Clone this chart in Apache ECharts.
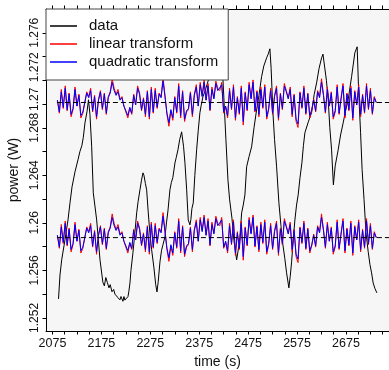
<!DOCTYPE html>
<html><head><meta charset="utf-8">
<script src="https://cdn.jsdelivr.net/npm/echarts@6/dist/echarts.min.js"></script>
<style>html,body{margin:0;padding:0;background:#fff}#c{width:389px;height:370px}</style>
</head><body><div id="c"></div><script>
// ---- data ----
const dataTime = [2087.3,2090.3,2093.8,2100.5,2106.7,2110.8,2114.9,2121.0,2127.1,2131.0,2135.0,2138.0,2141.4,2145.5,2148.6,2151.6,2155.1,2158.4,2165.3,2172.1,2178.0,2181.0,2184.0,2187.0,2190.5,2193.0,2196.6,2200.0,2202.7,2206.0,2208.9,2212.9,2215.0,2217.0,2219.0,2221.1,2223.0,2225.2,2227.0,2229.3,2231.0,2233.4,2235.4,2239.5,2243.0,2247.1,2250.0,2253.8,2257.0,2260.0,2262.0,2265.0,2267.5,2270.8,2274.0,2277.7,2282.4,2286.0,2288.6,2291.0,2294.7,2298.0,2300.8,2304.9,2308.0,2311.0,2315.1,2318.0,2321.0,2325.4,2328.0,2331.5,2335.0,2339.0,2341.0,2343.0,2345.8,2349.3,2352.5,2356.0,2358.0,2360.0,2362.8,2366.0,2369.7,2373.0,2376.4,2379.0,2382.6,2386.0,2390.8,2396.9,2401.0,2405.1,2409.0,2413.3,2416.0,2419.4,2423.5,2429.6,2433.7,2437.0,2441.9,2446.0,2451.5,2455.0,2458.2,2461.7,2465.0,2468.4,2471.9,2477.0,2482.1,2487.0,2492.3,2497.0,2502.5,2507.0,2512.8,2516.0,2519.5,2522.0,2525.7,2529.0,2533.2,2537.9,2542.0,2546.1,2550.0,2553.6,2558.3,2561.0,2563.9,2567.0,2570.6,2574.0,2577.3,2581.0,2584.9,2588.0,2591.0,2598.0,2604.7,2610.0,2615.0,2620.0,2625.2,2628.0,2631.9,2635.0,2638.7,2642.0,2645.6,2649.3,2653.0,2659.1,2664.0,2669.3,2674.0,2679.5,2686.5,2693.2,2697.9,2701.0,2704.9,2708.0,2712.0,2716.0,2720.4,2724.0,2727.4,2730.6,2734.0,2738.2];
const dataPower = [1.25360,1.25562,1.25689,1.25857,1.26025,1.26169,1.26303,1.26430,1.26531,1.26600,1.26650,1.26720,1.26842,1.26935,1.27036,1.26910,1.26640,1.26253,1.26025,1.25689,1.25500,1.25470,1.25540,1.25500,1.25453,1.25480,1.25420,1.25440,1.25400,1.25390,1.25370,1.25352,1.25380,1.25360,1.25340,1.25380,1.25350,1.25335,1.25365,1.25380,1.25420,1.25495,1.25600,1.25750,1.25900,1.26084,1.26180,1.26278,1.26360,1.26421,1.26400,1.26330,1.26278,1.26084,1.25920,1.25773,1.25621,1.25480,1.25419,1.25500,1.25672,1.25770,1.25815,1.25882,1.26000,1.26100,1.26278,1.26340,1.26380,1.26505,1.26550,1.26615,1.26700,1.26766,1.26750,1.26640,1.26505,1.26278,1.26025,1.25983,1.26030,1.26120,1.26169,1.26400,1.26615,1.26780,1.26927,1.26990,1.27061,1.27100,1.27162,1.27246,1.27300,1.27373,1.27410,1.27450,1.27400,1.27288,1.27206,1.26699,1.26362,1.26200,1.26040,1.25850,1.25689,1.25780,1.25882,1.26084,1.26150,1.26236,1.26472,1.26560,1.26640,1.26800,1.26952,1.27070,1.27230,1.27320,1.27389,1.27420,1.27465,1.27300,1.26927,1.26700,1.26472,1.26169,1.25980,1.25815,1.25700,1.25579,1.25453,1.25550,1.25672,1.25850,1.26025,1.26150,1.26236,1.26380,1.26505,1.26650,1.26758,1.26850,1.26927,1.27080,1.27179,1.27300,1.27389,1.27420,1.27432,1.27200,1.27036,1.26800,1.26615,1.26320,1.26480,1.26615,1.26740,1.26842,1.26940,1.27036,1.27230,1.27432,1.27482,1.27100,1.26758,1.26450,1.26194,1.25916,1.25760,1.25650,1.25579,1.25495,1.25450,1.25411];

// residuals sampled every 4 s from t = 2085 s, in units of 1e-4 W
const residualStart = 2085;
const residualStep = 4;
const linearResidual = [2,-9,11,-5,14,-7,8,-12,-6,13,-3,7,-13,-9,-10,9,5,12,-8,6,-14,2,10,-6,8,-10,5,9,20,12,7,11,3,5,-3,-8,-13,-5,-10,7,-2,14,8,-7,4,-12,10,-14,13,-9,12,-5,8,5,21,6,-10,-20,-7,-15,5,-9,16,-13,10,-16,-8,-6,9,-12,7,15,-3,17,6,19,2,16,-7,13,4,18,12,10,17,-9,-4,-13,12,-6,15,-15,5,-10,14,-19,9,-7,17,4,19,-8,10,-12,13,-5,15,-14,-6,12,-10,6,14,-15,8,-6,16,10,4,13,-12,7,-16,-21,9,-5,14,-10,8,-13,-7,3,-8,10,5,20,7,-9,13,-3,9,-14,-8,15,-10,4,16,-13,8,-7,14,-15,10,-2,15,-12,7,-9,16,-6,12,-10,5,0];
const quadraticResidual = [2,-8,9,-4,12,-6,7,-10,-5,11,-3,6,-11,-8,-9,8,4,10,-7,5,-12,2,9,-5,7,-9,4,8,17,10,6,9,2,4,-3,-7,-11,-4,-9,6,-2,12,7,-6,3,-10,9,-12,11,-8,10,-4,7,4,18,5,-9,-17,-6,-13,4,-8,14,-11,9,-14,-7,-5,8,-10,6,13,-3,15,5,17,2,14,-6,11,3,16,10,9,15,-8,-3,-11,10,-5,13,-13,4,-9,12,-16,8,-6,15,3,17,-7,9,-10,11,-4,13,-12,-5,10,-9,5,12,-13,7,-5,14,9,3,11,-10,6,-14,-18,8,-4,12,-9,7,-11,-6,2,-7,9,4,17,6,-8,11,-3,8,-12,-7,13,-9,3,14,-11,7,-6,12,-13,9,-2,13,-10,6,-8,14,-5,10,-9,4,0];
const levelUpper = 1.27013;
const levelLower = 1.25876;
const refLineStart = 2084;
const refLineEnd = 2800;

// ---- ticks ----
const xTickLabels = [2075,2175,2275,2375,2475,2575,2675];
const xTicks = [2075,2100,2125,2150,2175,2200,2225,2250,2275,2300,2325,2350,2375,2400,2425,2450,2475,2500,2525,2550,2575,2600,2625,2650,2675,2700,2725,2750];
const yLabelValues = [1.252,1.256,1.26,1.264,1.268,1.2704,1.2731,1.276];
const yLabelTexts = ['1.252','1.256','1.26','1.264','1.268','1.27','1.272','1.276'];
const yTicks = [1.252,1.254,1.256,1.258,1.26,1.262,1.264,1.266,1.268,1.27,1.272,1.274,1.276];

const font = '"Liberation Sans", "DejaVu Sans", sans-serif';
const X_MIN = 2061.7, X_MAX = 2763, Y_MIN = 1.2509, Y_MAX = 1.2780;

function residualSeries(name, color, level, arr) {
  return {
    name, type: 'line', showSymbol: false, symbol: 'none', animation: false,
    lineStyle: { color, width: 1 }, itemStyle: { color },
    data: arr.map((r, i) => [residualStart + residualStep * i, level + r * 1e-4])
  };
}
function refSeries(level) {
  return {
    name: 'ref', type: 'line', showSymbol: false, symbol: 'none', animation: false, silent: true,
    lineStyle: { color: '#000', width: 1, type: [5, 3] }, z: 5,
    data: [[refLineStart, level], [refLineEnd, level]]
  };
}

const chart = echarts.init(document.getElementById('c'), null, { renderer: 'canvas' });
chart.setOption({
  animation: false,
  backgroundColor: '#fff',
  grid: { left: 46, right: 0, top: 9, bottom: 39, show: true, backgroundColor: '#f6f6f6', borderWidth: 0, outerBoundsMode: 'none' },
  legend: {
    data: ['data', 'linear transform', 'quadratic transform'],
    orient: 'vertical', left: 46, top: 9,
    icon: 'rect', itemWidth: 27, itemHeight: 1.5, itemGap: 2,
    padding: [9, 10, 10, 4],
    backgroundColor: '#fff', borderColor: '#444', borderWidth: 1, borderRadius: 0,
    selectedMode: false, z: 10,
    textStyle: { fontFamily: font, fontSize: 15, color: '#111', lineHeight: 16, padding: [0, 0, 0, 7] }
  },
  xAxis: [{
    type: 'value', min: X_MIN, max: X_MAX, position: 'bottom',
    axisLine: { show: true, onZero: false, lineStyle: { color: '#000', width: 1 } },
    axisTick: { show: true, customValues: xTicks, length: 3.5, inside: false, lineStyle: { color: '#000', width: 1 } },
    axisLabel: { customValues: xTickLabels, fontFamily: font, fontSize: 12.5, color: '#111', margin: 6, formatter: v => String(Math.round(v)) },
    splitLine: { show: false },
    name: 'time (s)', nameLocation: 'middle', nameGap: 24,
    nameTextStyle: { fontFamily: font, fontSize: 14, color: '#111' }
  }, {
    type: 'value', min: X_MIN, max: X_MAX, position: 'top',
    axisLine: { show: true, onZero: false, lineStyle: { color: '#000', width: 1 } },
    axisTick: { show: true, customValues: xTicks, length: 3.5, inside: false, lineStyle: { color: '#000', width: 1 } },
    axisLabel: { show: false }, splitLine: { show: false }
  }],
  yAxis: [{
    type: 'value', min: Y_MIN, max: Y_MAX,
    axisLine: { show: true, onZero: false, lineStyle: { color: '#000', width: 1 } },
    axisTick: { show: true, customValues: yTicks, length: 3.5, inside: false, lineStyle: { color: '#000', width: 1 } },
    axisLabel: {
      customValues: yLabelValues, rotate: 90, fontFamily: font, fontSize: 12, color: '#111', margin: 5,
      formatter: v => { let best = 0; yLabelValues.forEach((y, i) => { if (Math.abs(y - v) < Math.abs(yLabelValues[best] - v)) best = i; }); return yLabelTexts[best]; }
    },
    splitLine: { show: false },
    name: 'power (W)', nameLocation: 'middle', nameGap: 24,
    nameTextStyle: { fontFamily: font, fontSize: 14, color: '#111' }
  }],
  series: [
    { name: 'data', type: 'line', showSymbol: false, symbol: 'none', animation: false,
      lineStyle: { color: '#000', width: 1 }, itemStyle: { color: '#000' },
      data: dataTime.map((t, i) => [t, dataPower[i]]) },
    residualSeries('linear transform', '#ff0000', levelUpper, linearResidual),
    residualSeries('linear transform', '#ff0000', levelLower, linearResidual),
    residualSeries('quadratic transform', '#0000ff', levelUpper, quadraticResidual),
    residualSeries('quadratic transform', '#0000ff', levelLower, quadraticResidual),
    refSeries(levelUpper),
    refSeries(levelLower)
  ]
});
</script></body></html>
